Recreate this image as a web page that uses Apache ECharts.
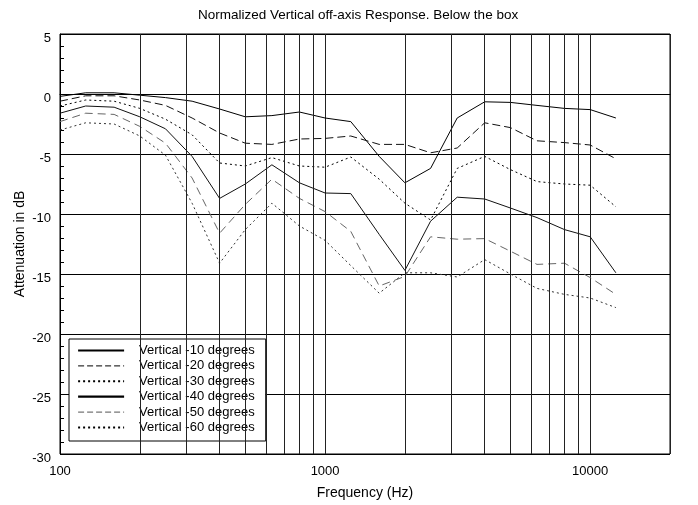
<!DOCTYPE html>
<html>
<head>
<meta charset="utf-8">
<script src="https://cdn.jsdelivr.net/npm/echarts@6/dist/echarts.min.js"></script>
<style>
  html, body { margin: 0; padding: 0; background: #fff; }
  #chart { width: 698px; height: 505px; }
</style>
</head>
<body>
<div id="chart"></div>
<script>
// 1/3 octave frequencies (Hz)
const freqs = [100, 125, 160, 200, 250, 315, 400, 500, 630, 800, 1000, 1250, 1600, 2000, 2500, 3150, 4000, 5000, 6300, 8000, 10000, 12500]
// attenuation in dB
const v10 = [-0.2, 0.1, 0.1, -0.1, -0.3, -0.6, -1.25, -1.9, -1.8, -1.5, -2.0, -2.3, -5.2, -7.4, -6.2, -2.0, -0.65, -0.7, -0.95, -1.2, -1.3, -2.0]
const v20 = [-0.6, -0.15, -0.15, -0.5, -0.95, -2.0, -3.25, -4.1, -4.2, -3.75, -3.7, -3.5, -4.2, -4.2, -4.9, -4.5, -2.4, -2.8, -3.9, -4.05, -4.25, -5.4]
const v30 = [-1.0, -0.5, -0.6, -1.2, -2.1, -3.4, -5.75, -6.0, -5.3, -6.0, -6.1, -5.25, -7.1, -9.1, -10.5, -6.2, -5.2, -6.3, -7.3, -7.5, -7.6, -9.4]
const v40 = [-1.6, -1.0, -1.1, -1.9, -2.9, -5.2, -8.7, -7.5, -5.9, -7.4, -8.25, -8.3, -11.7, -14.7, -10.6, -8.6, -8.75, -9.5, -10.3, -11.3, -11.9, -14.9]
const v50 = [-2.3, -1.6, -1.7, -2.7, -4.1, -7.0, -11.6, -9.2, -7.1, -8.7, -9.8, -11.45, -16.0, -15.2, -11.9, -12.1, -12.05, -13.1, -14.2, -14.1, -15.3, -16.7]
const v60 = [-3.0, -2.4, -2.5, -3.5, -5.1, -9.1, -14.1, -11.3, -9.1, -11.0, -12.2, -14.3, -16.6, -14.9, -14.9, -15.25, -13.8, -15.0, -16.2, -16.7, -17.0, -17.8]
const names = ['Vertical -10 degrees', 'Vertical -20 degrees', 'Vertical -30 degrees', 'Vertical -40 degrees', 'Vertical -50 degrees', 'Vertical -60 degrees']
// extra vertical grid lines between decades
const gridFreqs = [200, 300, 400, 500, 600, 700, 800, 900, 2000, 3000, 4000, 5000, 6000, 7000, 8000, 9000]
const xLabels = [100, 1000, 10000]

const font = 'Liberation Sans, Arial, sans-serif'
const values = [v10, v20, v30, v40, v50, v60]
const styles = [
    { color: '#000', type: 'solid' },
    { color: '#111', type: [8, 4] },
    { color: '#000', type: [2, 3] },
    { color: '#111', type: 'solid' },
    { color: '#666', type: [8, 5] },
    { color: '#333', type: [2, 3] }
]
const legendStyles = [
    { width: 2.2, type: 'solid', color: '#000' },
    { width: 1, type: [6, 3], color: '#000' },
    { width: 2, type: [2, 3], color: '#000' },
    { width: 2.2, type: 'solid', color: '#000' },
    { width: 1.2, type: [6, 3], color: '#777' },
    { width: 2, type: [2, 3], color: '#000' }
]

const series = values.map((v, i) => ({
    name: names[i],
    type: 'line',
    symbol: 'none',
    smooth: false,
    animation: false,
    lineStyle: { width: 1, color: styles[i].color, type: styles[i].type },
    itemStyle: { color: styles[i].color },
    data: freqs.map((f, k) => [f, v[k]])
}))
series[0].markLine = {
    silent: true,
    symbol: 'none',
    animation: false,
    label: { show: false },
    lineStyle: { color: '#222', width: 1, type: 'solid' },
    data: gridFreqs.map(f => ({ xAxis: f }))
}

const option = {
    backgroundColor: '#fff',
    title: {
        text: 'Normalized Vertical off-axis Response. Below the box',
        left: 193,
        top: 3,
        textStyle: { fontFamily: font, fontSize: 13.5, fontWeight: 'normal', color: '#000' }
    },
    legend: {
        orient: 'vertical',
        left: 69,
        top: 339,
        padding: [5, 11, 7, 8],
        itemWidth: 46,
        itemHeight: 12,
        itemGap: 2.4,
        backgroundColor: '#fff',
        borderColor: '#000',
        borderWidth: 1,
        borderRadius: 0,
        itemStyle: { color: 'transparent', borderWidth: 0, opacity: 0 },
        textStyle: { fontFamily: font, fontSize: 13, lineHeight: 12, color: '#000', padding: [0, 0, 0, 10] },
        data: names.map((n, i) => ({ name: n, lineStyle: legendStyles[i] }))
    },
    grid: {
        left: 60,
        right: 28,
        top: 34,
        bottom: 50,
        show: true,
        borderColor: '#000',
        borderWidth: 1
    },
    xAxis: {
        type: 'log',
        logBase: 10,
        min: 100,
        max: 20000,
        name: 'Frequency (Hz)',
        nameLocation: 'middle',
        nameGap: 32,
        nameTextStyle: { fontFamily: font, fontSize: 14, color: '#000' },
        axisLine: { show: true, lineStyle: { color: '#000' } },
        axisTick: { show: false },
        axisLabel: {
            color: '#000',
            fontFamily: font,
            fontSize: 13,
            margin: 11,
            showMaxLabel: false,
            formatter: val => xLabels.includes(Math.round(val)) ? String(Math.round(val)) : ''
        },
        splitLine: { show: true, lineStyle: { color: '#222', width: 1 } }
    },
    yAxis: {
        type: 'value',
        min: -30,
        max: 5,
        interval: 5,
        name: 'Attenuation in dB',
        nameLocation: 'middle',
        nameGap: 33,
        nameMoveOverlap: false,
        nameTextStyle: { fontFamily: font, fontSize: 14, color: '#000' },
        axisLine: { show: true, lineStyle: { color: '#000' } },
        axisTick: { show: true, inside: true, length: 4, lineStyle: { color: '#000' } },
        minorTick: { show: true, splitNumber: 5, length: 4, lineStyle: { color: '#000' } },
        axisLabel: { color: '#000', fontFamily: font, fontSize: 13, margin: 9, verticalAlign: 'top', lineHeight: 8 },
        splitLine: { show: true, lineStyle: { color: '#000', width: 1 } }
    },
    series: series
}

const chartDom = echarts.init(document.getElementById('chart'))
chartDom.setOption(option)
</script>
</body>
</html>
